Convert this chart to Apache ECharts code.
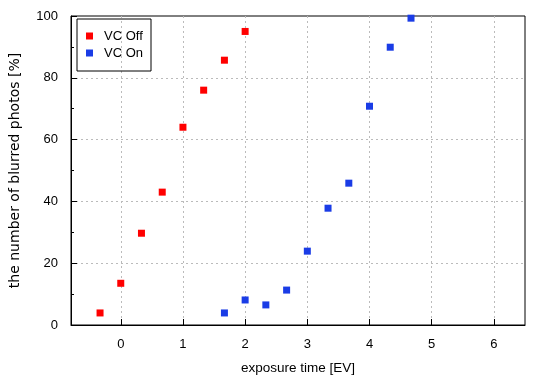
<!DOCTYPE html>
<html>
<head>
<meta charset="utf-8">
<script src="https://cdn.jsdelivr.net/npm/echarts@6/dist/echarts.min.js"></script>
<style>html,body{margin:0;padding:0;background:#fff}#c{width:550px;height:380px}</style>
</head>
<body>
<div id="c"></div>
<script>
var offX = [-0.333, 0, 0.333, 0.667, 1, 1.333, 1.667, 2];
var offY = [3.9, 13.5, 29.7, 43.0, 64.0, 76.0, 85.7, 95.0];
var onX = [1.667, 2, 2.333, 2.667, 3, 3.333, 3.667, 4, 4.333, 4.667];
var onY = [3.9, 8.1, 6.5, 11.3, 23.9, 37.8, 45.9, 70.8, 89.9, 99.3];
var seriesNames = ['VC Off', 'VC On'];
var xTitle = 'exposure time [EV]';
var yTitle = 'the number of blurred photos [%]';

function pairs(xs, ys) { return xs.map(function (x, i) { return [x, ys[i]]; }); }

var font = 'Liberation Sans, Arial, sans-serif';
var gridLine = { show: true, showMinLine: false, showMaxLine: false, lineStyle: { color: '#bbb', type: [2, 3], width: 1 } };
var chart = echarts.init(document.getElementById('c'));
chart.setOption({
  animation: false,
  backgroundColor: '#fff',
  grid: { left: 69, right: 25, top: 16, bottom: 55, show: true, borderColor: '#000', borderWidth: 1, containLabel: false },
  legend: {
    orient: 'vertical', left: 77, top: 19, width: 72,
    borderColor: '#000', borderWidth: 1, borderRadius: 0,
    padding: [10, 8, 11, 9], itemGap: 3,
    itemWidth: 7, itemHeight: 7,
    textStyle: { fontFamily: font, fontSize: 13, color: '#000', padding: [0, 0, 0, 6], lineHeight: 14 },
    data: [{ name: seriesNames[0], icon: 'rect' }, { name: seriesNames[1], icon: 'rect' }]
  },
  xAxis: {
    type: 'value', min: -0.8, max: 6.5, minInterval: 1, maxInterval: 1,
    name: xTitle, nameLocation: 'middle', nameGap: 36,
    nameTextStyle: { fontFamily: font, fontSize: 13.5, color: '#000' },
    axisLine: { show: true, onZero: false, lineStyle: { color: '#000', width: 1 } },
    axisTick: { show: true, inside: true, length: 6, lineStyle: { color: '#000' } },
    axisLabel: { fontFamily: font, fontSize: 13, color: '#000', margin: 13, showMinLabel: false, showMaxLabel: false },
    splitLine: gridLine
  },
  yAxis: {
    type: 'value', min: 0, max: 100, interval: 20,
    name: yTitle, nameLocation: 'middle', nameGap: 49,
    nameTextStyle: { fontFamily: 'DejaVu Sans, sans-serif', fontSize: 14, color: '#000' },
    axisLine: { show: true, onZero: false, lineStyle: { color: '#000', width: 1 } },
    axisTick: { show: true, inside: true, length: 6, lineStyle: { color: '#000' } },
    minorTick: { show: true, splitNumber: 2, length: 3, lineStyle: { color: '#000' } },
    axisLabel: { fontFamily: font, fontSize: 13, color: '#000', margin: 13 },
    splitLine: gridLine
  },
  series: [
    { name: seriesNames[0], type: 'scatter', symbol: 'rect', symbolSize: 7, itemStyle: { color: '#ff0000', opacity: 1 }, data: pairs(offX, offY) },
    { name: seriesNames[1], type: 'scatter', symbol: 'rect', symbolSize: 7, itemStyle: { color: '#1a3ce6', opacity: 1 }, data: pairs(onX, onY) }
  ]
});
</script>
</body>
</html>
